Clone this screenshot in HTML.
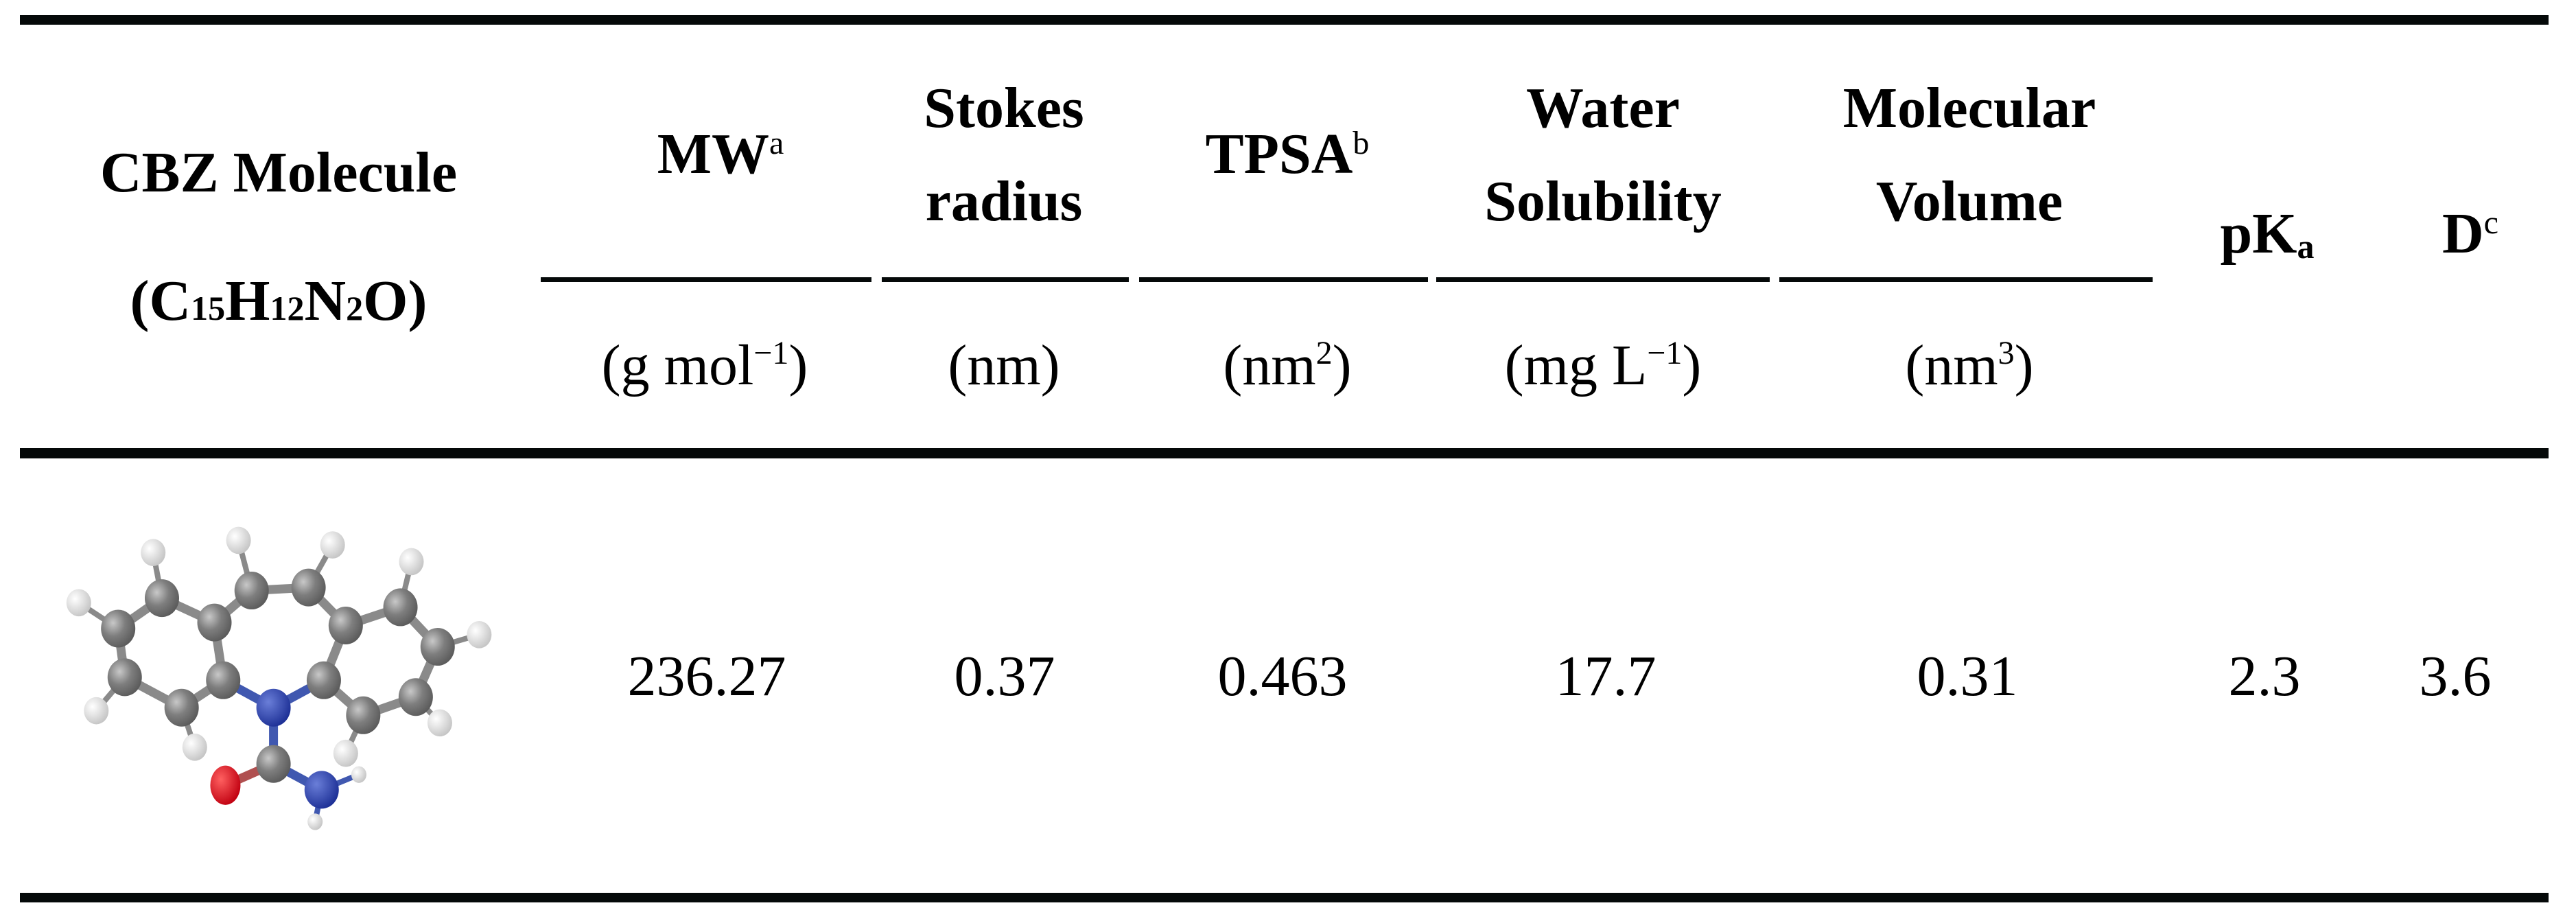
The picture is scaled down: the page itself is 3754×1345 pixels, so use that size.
<!DOCTYPE html>
<html><head><meta charset="utf-8"><style>
html,body{margin:0;padding:0;background:#fff;}
svg{display:block;}
text{font-family:"Liberation Serif",serif;fill:#000;}
.h{font-weight:bold;font-size:84px;}
.u{font-size:84px;}
.v{font-size:84px;}
</style></head><body>
<svg width="3754" height="1345" viewBox="0 0 3754 1345">
<rect x="29" y="22" width="3685" height="14" fill="#050909"/>
<rect x="29" y="653" width="3685" height="15" fill="#050909"/>
<rect x="29" y="1301" width="3685" height="14" fill="#050909"/>
<g fill="#050909">
<rect x="788" y="404" width="482" height="7"/>
<rect x="1285" y="404" width="360" height="7"/>
<rect x="1660" y="404" width="421" height="7"/>
<rect x="2093" y="404" width="486" height="7"/>
<rect x="2593" y="404" width="544" height="7"/>
</g>
<g text-anchor="middle" class="h">
<text x="406" y="279">CBZ Molecule</text>
<text x="406" y="466">(C<tspan font-size="50">15</tspan>H<tspan font-size="50">12</tspan>N<tspan font-size="50">2</tspan>O)</text>
<text x="1050" y="252">MW<tspan font-size="48" font-weight="normal" dy="-28">a</tspan></text>
<text x="1463" y="185">Stokes</text>
<text x="1463" y="321">radius</text>
<text x="1876" y="252">TPSA<tspan font-size="48" font-weight="normal" dy="-28">b</tspan></text>
<text x="2336" y="185">Water</text>
<text x="2336" y="321">Solubility</text>
<text x="2870" y="185">Molecular</text>
<text x="2870" y="321">Volume</text>
<text x="3304" y="368">pK<tspan font-size="50" dy="8">a</tspan></text>
<text x="3600" y="368">D<tspan font-size="48" font-weight="normal" dy="-28">c</tspan></text>
</g>
<g text-anchor="middle" class="u">
<text x="1027" y="560">(g mol<tspan font-size="48" dy="-30">−1</tspan><tspan dy="30">)</tspan></text>
<text x="1463" y="560">(nm)</text>
<text x="1876" y="560">(nm<tspan font-size="48" dy="-30">2</tspan><tspan dy="30">)</tspan></text>
<text x="2336" y="560">(mg L<tspan font-size="48" dy="-30">−1</tspan><tspan dy="30">)</tspan></text>
<text x="2870" y="560">(nm<tspan font-size="48" dy="-30">3</tspan><tspan dy="30">)</tspan></text>
</g>
<g text-anchor="middle" class="v">
<text x="1030" y="1013">236.27</text>
<text x="1464" y="1013">0.37</text>
<text x="1869" y="1013">0.463</text>
<text x="2340" y="1013">17.7</text>
<text x="2867" y="1013">0.31</text>
<text x="3300" y="1013">2.3</text>
<text x="3578" y="1013">3.6</text>
</g>
<defs>
<radialGradient id="gc" cx="0.35" cy="0.35" r="0.7"><stop offset="0" stop-color="#c8c8c8"/><stop offset="0.5" stop-color="#7e7e7e"/><stop offset="1" stop-color="#5a5a5a"/></radialGradient>
<radialGradient id="gh" cx="0.35" cy="0.35" r="0.7"><stop offset="0" stop-color="#ffffff"/><stop offset="1" stop-color="#c4c4c4"/></radialGradient>
<radialGradient id="gn" cx="0.35" cy="0.35" r="0.7"><stop offset="0" stop-color="#6a7ed8"/><stop offset="1" stop-color="#1c2f95"/></radialGradient>
<radialGradient id="go" cx="0.35" cy="0.35" r="0.7"><stop offset="0" stop-color="#ff6060"/><stop offset="1" stop-color="#c00010"/></radialGradient>
</defs>
<g id="mol"></g>
<script>
var sx=1/1.568, sy=1/2.256, oy=650;
function P(p){return [p[0]*sx, p[1]*sy+oy];}
var atoms={
C1:[370,500],C2:[270,600],C3:[285,760],C4:[415,860],C5:[510,770],C6:[490,580],
C7:[575,475],C8:[705,465],C9:[790,590],C10:[740,770],C11:[830,885],C12:[950,825],
C13:[1000,660],C14:[915,530],C15:[625,1045],N1:[625,860],N2:[735,1130],O:[515,1115],
H1:[350,350],H2:[180,515],H3:[220,870],H4:[445,990],H5:[545,310],H6:[760,325],
H7:[940,380],H8:[1095,620],H9:[1005,910],H10:[790,1010],H11:[820,1080],H12:[720,1235]};
var bonds=[["C1","C2"],["C2","C3"],["C3","C4"],["C4","C5"],["C5","C6"],["C6","C1"],["C6","C7"],["C7","C8"],["C8","C9"],
["C9","C10"],["C10","C11"],["C11","C12"],["C12","C13"],["C13","C14"],["C14","C9"],["C5","N1"],["C10","N1"],["N1","C15"],
["C15","O"],["C15","N2"],["C1","H1"],["C2","H2"],["C3","H3"],["C4","H4"],["C7","H5"],["C8","H6"],["C14","H7"],["C13","H8"],
["C12","H9"],["C11","H10"],["N2","H11"],["N2","H12"]];
var g=document.getElementById('mol'),ns="http://www.w3.org/2000/svg";
bonds.forEach(function(b){var a=P(atoms[b[0]]),c=P(atoms[b[1]]);
var l=document.createElementNS(ns,'line');


l.setAttribute('x1',a[0]);l.setAttribute('y1',a[1]);l.setAttribute('x2',c[0]);l.setAttribute('y2',c[1]);
var col=b[0][0]=='N'||b[1][0]=='N'?'#4058b0':(b[1]=='O'?'#b05050':'#8a8a8a');
l.setAttribute('stroke',col);l.setAttribute('stroke-width',b[1][0]=='H'?8:13);g.appendChild(l);});
Object.keys(atoms).forEach(function(k){var p=P(atoms[k]);var e=document.createElementNS(ns,'ellipse');


var t=k[0],r=25,f='url(#gc)';
if(t=='H'){r=(k=='H11'||k=='H12')?11:18;f='url(#gh)';}
if(t=='N'){r=25;f='url(#gn)';}
if(t=='O'){r=22;f='url(#go)';}
e.setAttribute('cx',p[0]);e.setAttribute('cy',p[1]);e.setAttribute('rx',r);e.setAttribute('ry',t=='O'?r*1.3:r*1.1);
e.setAttribute('fill',f);g.appendChild(e);});
</script>
</svg>
</body></html>
